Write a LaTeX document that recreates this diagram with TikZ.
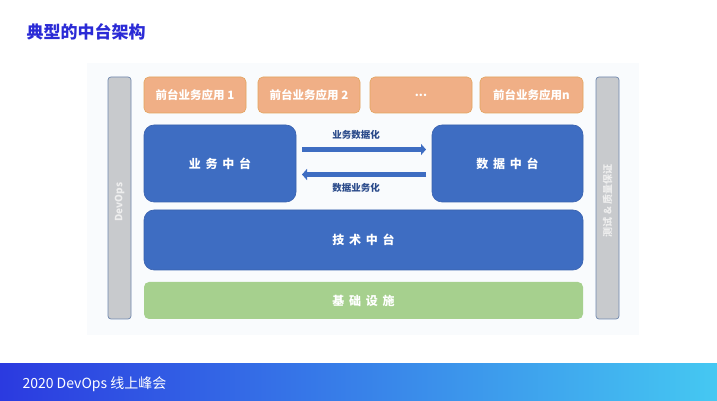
\documentclass[tikz,border=0pt]{standalone}
\usepackage{fontspec}
\setmainfont{Noto Sans CJK SC}
\setsansfont{Noto Sans CJK SC}
\usetikzlibrary{arrows.meta}
\definecolor{titleblue}{HTML}{2B2BD6}
\definecolor{panelbg}{HTML}{F9FBFD}
\definecolor{barfill}{HTML}{C8CACD}
\definecolor{barline}{HTML}{7088AE}
\definecolor{bartext}{HTML}{EEEEEE}
\definecolor{orfill}{HTML}{F0AF86}
\definecolor{orline}{HTML}{E2A45E}
\definecolor{bluefill}{HTML}{3E6DC2}
\definecolor{blueline}{HTML}{3A62AE}
\definecolor{greenfill}{HTML}{A6D08E}
\definecolor{arrowblue}{HTML}{3E6DC2}
\definecolor{lbltext}{HTML}{2A4A8A}
\definecolor{footL}{HTML}{2B3AE0}
\definecolor{footR}{HTML}{45C8F2}
\tikzset{
  x=1pt,y=1pt,
  sidebar/.style={draw=barline,line width=0.7pt,fill=barfill,rounded corners=3pt},
  sidetxt/.style={rotate=90,text=bartext,font=\bfseries\fontsize{10}{12}\selectfont},
  appbox/.style={draw=orline,line width=0.6pt,fill=orfill,rounded corners=5pt},
  bluebox/.style={draw=blueline,line width=0.6pt,fill=bluefill,rounded corners=10pt},
  greenbox/.style={fill=greenfill,rounded corners=5pt},
  wtxt/.style={text=white,font=\bfseries\fontsize{11.5}{13}\selectfont},
  bigtxt/.style={text=white,font=\bfseries\fontsize{12}{14}\selectfont},
  lbl/.style={text=lbltext,font=\bfseries\fontsize{9.5}{11}\selectfont},
  flow/.style={draw=arrowblue,line width=5pt,-{Triangle[length=5pt,width=11pt]}}
}
\newcommand{\gapsp}{\hspace{0.4em}}
\begin{document}
\begin{tikzpicture}
\useasboundingbox (0,0) rectangle (717,401);
\fill[white] (0,0) rectangle (717,401);
% title
\node[anchor=west,text=titleblue,font=\bfseries\fontsize{17}{20}\selectfont] (title) at (23,369) {典型的中台架构};
% panel
\fill[panelbg] (87,66) rectangle (639,338);
% side bars
\draw[sidebar] (108,82) rectangle (131,324);
\node[sidetxt] (devops) at (119.5,199) {DevOps};
\draw[sidebar] (596,82) rectangle (619,324);
\node[sidetxt] (qa) at (607.5,200) {测试 \& 质量保证};
% app boxes
\draw[appbox] (144,288) rectangle node[wtxt] (a1) {前台业务应用 1} (246,324);
\draw[appbox] (258,288) rectangle node[wtxt] (a2) {前台业务应用 2} (360,324);
\draw[appbox] (370,288) rectangle node[wtxt] (a3) {...} (472,324);
\draw[appbox] (480,288) rectangle node[wtxt] (a4) {前台业务应用n} (583,324);
% middle platforms
\draw[bluebox] (144,199) rectangle node[bigtxt] (biz) {业\gapsp 务\gapsp 中\gapsp 台} (296,276);
\draw[bluebox] (432,199) rectangle node[bigtxt] (data) {数\gapsp 据\gapsp 中\gapsp 台} (583,276);
\coordinate (bizR1) at (302,251.5);
\coordinate (dataL1) at (426,251.5);
\coordinate (bizR2) at (302,226.5);
\coordinate (dataL2) at (426,226.5);
\draw[flow] (bizR1) -- (dataL1);
\draw[flow] (dataL2) -- (bizR2);
\node[lbl] (l1) at (356,266) {业务数据化};
\node[lbl] (l2) at (356,213) {数据业务化};
% tech
\draw[bluebox] (144,131) rectangle node[bigtxt] (tech) {技\gapsp 术\gapsp 中\gapsp 台} (583,191);
% infra
\fill[greenbox] (144,82) rectangle (583,119);
\node[bigtxt] (infra) at (363.5,100.5) {基\gapsp 础\gapsp 设\gapsp 施};
% footer
\shade[left color=footL,right color=footR] (0,0) rectangle (717,37);
\node[anchor=west,text=white,font=\fontsize{14}{16}\selectfont] (foot) at (19,17) {2020 DevOps 线上峰会};
\end{tikzpicture}
\end{document}
